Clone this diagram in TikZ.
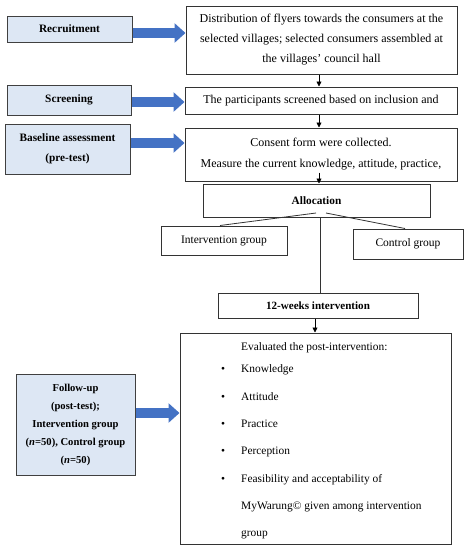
\documentclass[tikz,border=0pt]{standalone}
\usepackage{fontspec}
\setmainfont{Liberation Serif}
\usetikzlibrary{arrows.meta}
\definecolor{lblue}{HTML}{DDE7F4}
\definecolor{arrblue}{HTML}{4472C4}
\begin{document}
\begin{tikzpicture}[x=1pt,y=-1pt,
 lbox/.style={draw=black!75, line width=1pt, fill=lblue, inner sep=0pt, font=\bfseries\fontsize{11.3}{20}\selectfont, align=center},
 rbox/.style={draw=black!80, line width=1pt, fill=white, inner sep=0pt, font=\fontsize{12}{20}\selectfont, align=center},
 barrow/.style={draw=arrblue, line width=10pt, -{Triangle[length=11pt,width=19pt]}},
 karrow/.style={draw=black, line width=0.8pt, -{Triangle[length=5pt,width=5pt]}},
 kline/.style={draw=black!80, line width=0.8pt},
 txt/.style={font=\fontsize{11.4}{12}\selectfont, inner sep=0pt, anchor=base west}]
\useasboundingbox (0,0) rectangle (468,550);
% left boxes
\node[lbox, minimum width=125pt, minimum height=26pt] (rec) at (69.5,29) {Recruitment};
\node[lbox, minimum width=124pt, minimum height=30pt] (scr) at (69,100) {Screening};
\node[lbox, minimum width=125pt, minimum height=50pt] (base) at (67.5,149) {Baseline assessment\\(pre-test)};
\node[lbox, minimum width=119pt, minimum height=101pt, font=\bfseries\fontsize{10.6}{18}\selectfont] (fol) at (75.5,424.5) {Follow-up\\(post-test);\\Intervention group\\(\textit{n}=50), Control group\\(\textit{n}=50)};
% right boxes
\node[rbox, minimum width=271pt, minimum height=68pt] (dist) at (321.5,40) {Distribution of flyers towards the consumers at the\\selected villages; selected consumers assembled at\\the villages' council hall};
\node[rbox, minimum width=272pt, minimum height=27pt] (scrd) at (321,100.5) {The participants screened based on inclusion and};
\node[rbox, minimum width=272pt, minimum height=53pt, font=\fontsize{12}{21}\selectfont] (cons) at (321,154.5) {Consent form were collected.\\Measure the current knowledge, attitude, practice,};
\node[rbox, minimum width=227pt, minimum height=33pt, font=\bfseries\fontsize{11.3}{12}\selectfont] (alloc) at (316.5,200.5) {Allocation};
\node[rbox, minimum width=126pt, minimum height=29pt, font=\fontsize{11.5}{12}\selectfont] (ig) at (224,240.5) {Intervention group};
\node[rbox, minimum width=110pt, minimum height=30pt, font=\fontsize{11.5}{12}\selectfont] (cg) at (408,244) {Control group};
\node[rbox, minimum width=200pt, minimum height=25pt, font=\bfseries\fontsize{11.1}{12}\selectfont] (wk) at (318,305.5) {12-weeks intervention};
\node[rbox, minimum width=271pt, minimum height=211pt] (eval) at (315.5,438.5) {};
% evaluated text
\node[txt] (e0) at (241,350) {Evaluated the post-intervention:};
\node[txt] (b1) at (221,372) {\textbullet};
\node[txt] (e1) at (241,372) {Knowledge};
\node[txt] (b2) at (221,400) {\textbullet};
\node[txt] (e2) at (241,400) {Attitude};
\node[txt] (b3) at (221,427) {\textbullet};
\node[txt] (e3) at (241,427) {Practice};
\node[txt] (b4) at (221,454) {\textbullet};
\node[txt] (e4) at (241,454) {Perception};
\node[txt] (b5) at (221,482) {\textbullet};
\node[txt] (e5) at (241,482) {Feasibility and acceptability of};
\node[txt] (e6) at (241,509) {MyWarung\textcopyright{} given among intervention};
\node[txt] (e7) at (241,536) {group};
% blue arrows
\draw[barrow] ([yshift=-4pt]rec.east) -- ([yshift=-4pt]rec.east -| dist.west);
\draw[barrow] ([yshift=-2pt]scr.east) -- ([yshift=-2pt]scr.east -| scrd.west);
\draw[barrow] ([yshift=6pt]base.east) -- ([yshift=6pt]base.east -| cons.west);
\draw[barrow] ([yshift=11.5pt]fol.east) -- ([yshift=11.5pt]fol.east -| eval.west);
% black arrows
\draw[karrow] ([xshift=-2.5pt]dist.south) -- ([xshift=-2.5pt]dist.south |- scrd.north);
\draw[karrow] ([xshift=-2pt]scrd.south) -- ([xshift=-2pt]scrd.south |- cons.north);
\draw[karrow] ([xshift=-2pt,yshift=9pt]cons.south) -- ([xshift=-2pt]cons.south |- alloc.north);
\coordinate (a1) at (316,213);
\coordinate (a2) at (326,213);
\draw[kline] (a1) -- ([xshift=-4pt]ig.north);
\draw[kline] (a2) -- ([xshift=-3pt]cg.north);
\draw[kline] ([xshift=3.5pt]alloc.south) -- ([xshift=3.5pt]alloc.south |- wk.north);
\draw[karrow] ([xshift=-3pt]wk.south) -- ([xshift=-3pt]wk.south |- eval.north);
\end{tikzpicture}
\end{document}
